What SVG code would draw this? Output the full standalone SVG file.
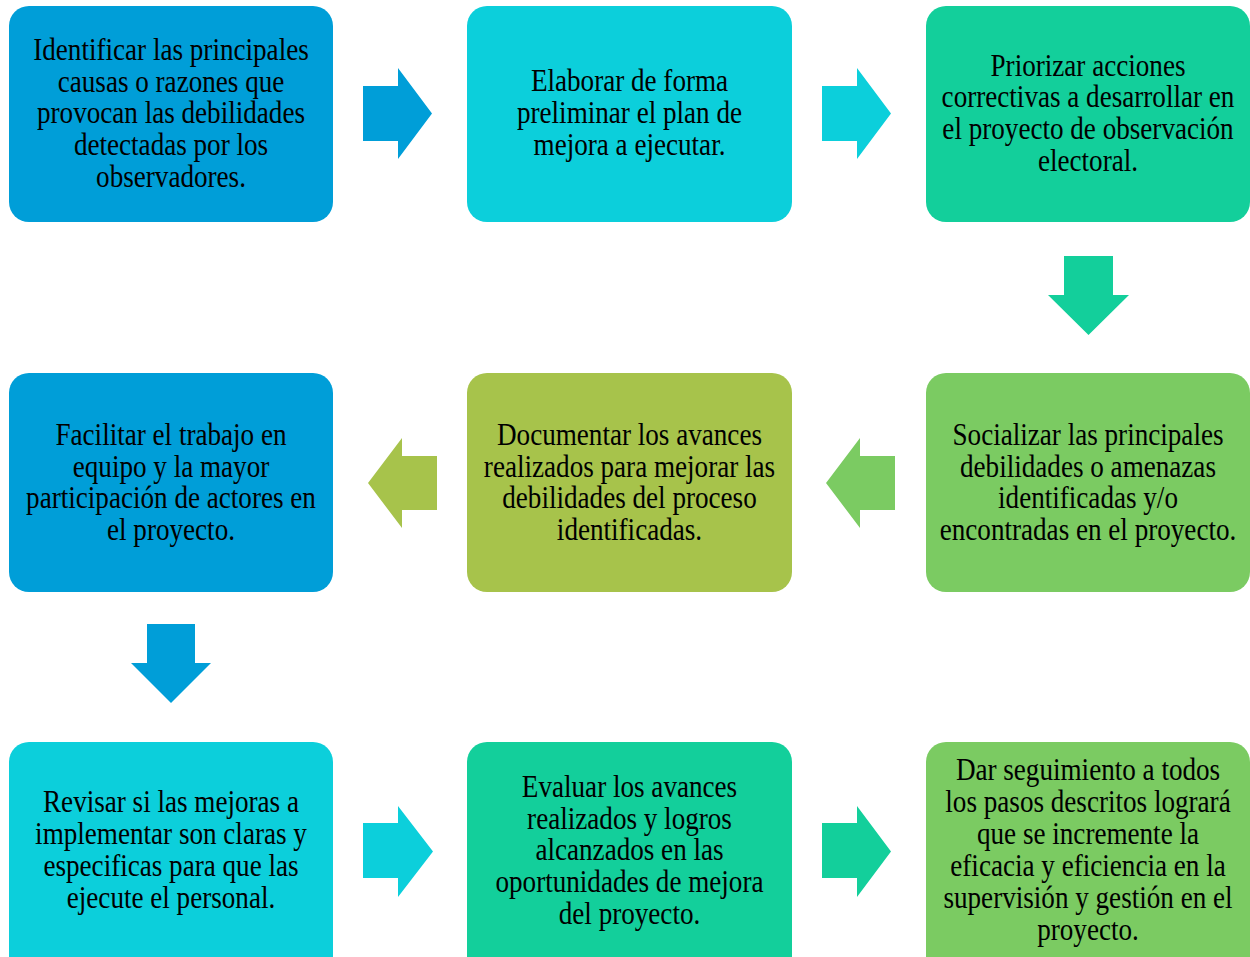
<svg xmlns="http://www.w3.org/2000/svg" width="1250" height="957" viewBox="0 0 1250 957">
<style>
.t{font-family:"Liberation Serif","Times New Roman",serif;font-size:31px;fill:#000;text-anchor:middle}
.blue{fill:#009ED8}.cyan{fill:#0CCFDB}.teal{fill:#13CF9B}.olive{fill:#A7C34B}.green{fill:#7BCB62}
</style>
<rect width="1250" height="957" fill="#fff"/>
<g id="n1"><rect class="blue" x="9" y="6" width="324" height="216" rx="20"/>
<text class="t" transform="translate(171,0) scale(0.875,1)"><tspan x="0" y="60">Identificar  las principales</tspan><tspan x="0" y="92">causas o razones que</tspan><tspan x="0" y="123">provocan las debilidades</tspan><tspan x="0" y="155">detectadas por los</tspan><tspan x="0" y="187">observadores.</tspan></text></g>
<g id="n2"><rect class="cyan" x="467" y="6" width="325" height="216" rx="20"/>
<text class="t" transform="translate(629.5,0) scale(0.875,1)"><tspan x="0" y="91">Elaborar de forma</tspan><tspan x="0" y="123">preliminar el plan de</tspan><tspan x="0" y="155">mejora a ejecutar.</tspan></text></g>
<g id="n3"><rect class="teal" x="926" y="6" width="324" height="216" rx="20"/>
<text class="t" transform="translate(1088,0) scale(0.875,1)"><tspan x="0" y="76">Priorizar acciones</tspan><tspan x="0" y="107">correctivas a desarrollar en</tspan><tspan x="0" y="139">el proyecto de observación</tspan><tspan x="0" y="171">electoral.</tspan></text></g>
<g id="n4"><rect class="green" x="926" y="373" width="324" height="219" rx="20"/>
<text class="t" transform="translate(1088,0) scale(0.875,1)"><tspan x="0" y="445">Socializar las principales</tspan><tspan x="0" y="477">debilidades  o amenazas</tspan><tspan x="0" y="508">identificadas y/o</tspan><tspan x="0" y="540">encontradas  en el proyecto.</tspan></text></g>
<g id="n5"><rect class="olive" x="467" y="373" width="325" height="219" rx="20"/>
<text class="t" transform="translate(629.5,0) scale(0.875,1)"><tspan x="0" y="445">Documentar los avances</tspan><tspan x="0" y="477">realizados para mejorar las</tspan><tspan x="0" y="508">debilidades  del proceso</tspan><tspan x="0" y="540">identificadas.</tspan></text></g>
<g id="n6"><rect class="blue" x="9" y="373" width="324" height="219" rx="20"/>
<text class="t" transform="translate(171,0) scale(0.875,1)"><tspan x="0" y="445">Facilitar el trabajo en</tspan><tspan x="0" y="477">equipo y  la mayor</tspan><tspan x="0" y="508">participación de actores en</tspan><tspan x="0" y="540">el proyecto.</tspan></text></g>
<g id="n7"><rect class="cyan" x="9" y="742" width="324" height="240" rx="20"/>
<text class="t" transform="translate(171,0) scale(0.875,1)"><tspan x="0" y="812">Revisar si las mejoras a</tspan><tspan x="0" y="844">implementar  son claras y</tspan><tspan x="0" y="876">especificas  para que las</tspan><tspan x="0" y="908">ejecute el personal.</tspan></text></g>
<g id="n8"><rect class="teal" x="467" y="742" width="325" height="240" rx="20"/>
<text class="t" transform="translate(629.5,0) scale(0.875,1)"><tspan x="0" y="797">Evaluar los avances</tspan><tspan x="0" y="829">realizados y logros</tspan><tspan x="0" y="860">alcanzados  en las</tspan><tspan x="0" y="892">oportunidades de mejora</tspan><tspan x="0" y="924">del proyecto.</tspan></text></g>
<g id="n9"><rect class="green" x="926" y="742" width="324" height="240" rx="20"/>
<text class="t" transform="translate(1088,0) scale(0.875,1)"><tspan x="0" y="780">Dar seguimiento a todos</tspan><tspan x="0" y="812">los pasos descritos logrará</tspan><tspan x="0" y="844">que se incremente  la</tspan><tspan x="0" y="876">eficacia y eficiencia en la</tspan><tspan x="0" y="908">supervisión y  gestión en el</tspan><tspan x="0" y="940">proyecto.</tspan></text></g>
<g id="connectors">
<polygon class="blue" points="363,86 398,86 398,68 432,113.5 398,159 398,141 363,141"/>
<polygon class="cyan" points="822,86 857,86 857,68 891,113.5 857,159 857,141 822,141"/>
<polygon class="teal" points="1064,256 1113,256 1113,295 1129,295 1088.5,335 1048,295 1064,295"/>
<polygon class="green" points="895,456 860,456 860,438 826,483 860,528 860,510 895,510"/>
<polygon class="olive" points="437,456 402,456 402,438 368,483 402,528 402,510 437,510"/>
<polygon class="blue" points="147,624 195,624 195,663 211,663 171,703 131,663 147,663"/>
<polygon class="cyan" points="363,823 398,823 398,806 433,851.5 398,897 398,878 363,878"/>
<polygon class="teal" points="822,823 857,823 857,806 891,851.5 857,897 857,878 822,878"/>
</g>
</svg>
